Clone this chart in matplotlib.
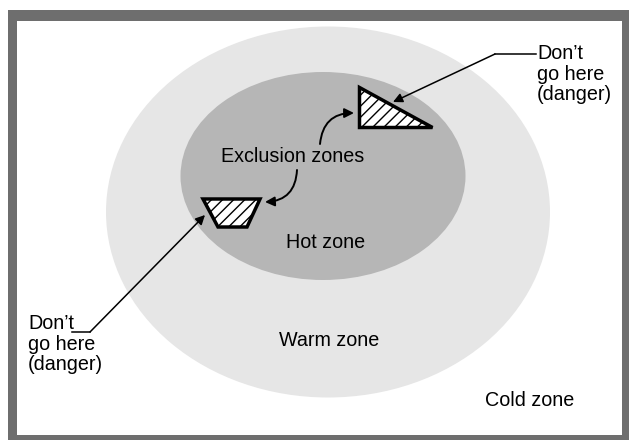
import matplotlib.pyplot as plt
from matplotlib.patches import Ellipse, Polygon, Rectangle, FancyArrowPatch

plt.rcParams['font.family'] = ['Liberation Sans', 'DejaVu Sans']
plt.rcParams['hatch.linewidth'] = 1.0

# zone labels and where they sit (pixel coords, y down)
zone_labels = ['Hot zone', 'Warm zone', 'Cold zone']
zone_label_x = [326, 329, 530]
zone_label_y = [243, 340, 400]

# zone outlines: center x, center y, width, height
warm_zone = [328, 212, 444, 371]
hot_zone = [323, 176, 285, 208]

# exclusion zone shapes
triangle_x = [359, 359, 432]
triangle_y = [87, 127, 127]
trapezoid_x = [203, 260, 247, 218]
trapezoid_y = [199, 199, 227, 227]

danger_text = "Don\u2019t\ngo here\n(danger)"

fig = plt.figure(figsize=(6.29, 4.40), dpi=100)
ax = fig.add_axes([0, 0, 1, 1])
ax.set_xlim(0, 629)
ax.set_ylim(440, 0)
ax.axis('off')

# grey frame
ax.add_patch(Rectangle((8, 10), 621, 430, facecolor='#6e6e6e', edgecolor='none', zorder=0))
ax.add_patch(Rectangle((17, 21), 605, 414, facecolor='white', edgecolor='none', zorder=0.5))

cx, cy, w, h = warm_zone
ax.add_patch(Ellipse((cx, cy), w, h, facecolor='#e6e6e6', edgecolor='none', zorder=1))
cx, cy, w, h = hot_zone
ax.add_patch(Ellipse((cx, cy), w, h, facecolor='#b6b6b6', edgecolor='none', zorder=2))

ax.add_patch(Polygon(list(zip(triangle_x, triangle_y)), closed=True, facecolor='white',
                     edgecolor='black', lw=2.5, hatch='///', zorder=3))
ax.add_patch(Polygon(list(zip(trapezoid_x, trapezoid_y)), closed=True, facecolor='white',
                     edgecolor='black', lw=2.5, hatch='///', zorder=3))

fs = 14.2
for lab, x, y in zip(zone_labels, zone_label_x, zone_label_y):
    ax.text(x, y, lab, fontsize=fs, ha='center', va='center', zorder=5)

ax.text(293, 157, 'Exclusion zones', fontsize=fs, ha='center', va='center', zorder=5)

# danger labels with leader lines
ax.text(537, 74, danger_text, fontsize=fs, ha='left', va='center', linespacing=1.1, zorder=5)
ax.plot([495, 536], [54, 54], color='black', lw=1.1, zorder=4)
ax.add_patch(FancyArrowPatch((495, 54), (393, 102), arrowstyle='-|>', mutation_scale=14,
                             color='black', lw=1.1, shrinkA=0, shrinkB=0, zorder=4))

ax.text(28, 344, danger_text, fontsize=fs, ha='left', va='center', linespacing=1.1, zorder=5)
ax.plot([72, 90], [332, 332], color='black', lw=1.1, zorder=4)
ax.add_patch(FancyArrowPatch((90, 332), (205, 215), arrowstyle='-|>', mutation_scale=14,
                             color='black', lw=1.1, shrinkA=0, shrinkB=0, zorder=4))

# curved arrows from the label to each exclusion zone
ax.add_patch(FancyArrowPatch((320, 144), (354, 113), arrowstyle='-|>', mutation_scale=14,
                             connectionstyle='arc3,rad=-0.45', color='black', lw=1.4,
                             shrinkA=0, shrinkB=0, zorder=4))
ax.add_patch(FancyArrowPatch((297, 170), (265, 202), arrowstyle='-|>', mutation_scale=14,
                             connectionstyle='arc3,rad=-0.45', color='black', lw=1.4,
                             shrinkA=0, shrinkB=0, zorder=4))

plt.savefig('out.png', dpi=100)
